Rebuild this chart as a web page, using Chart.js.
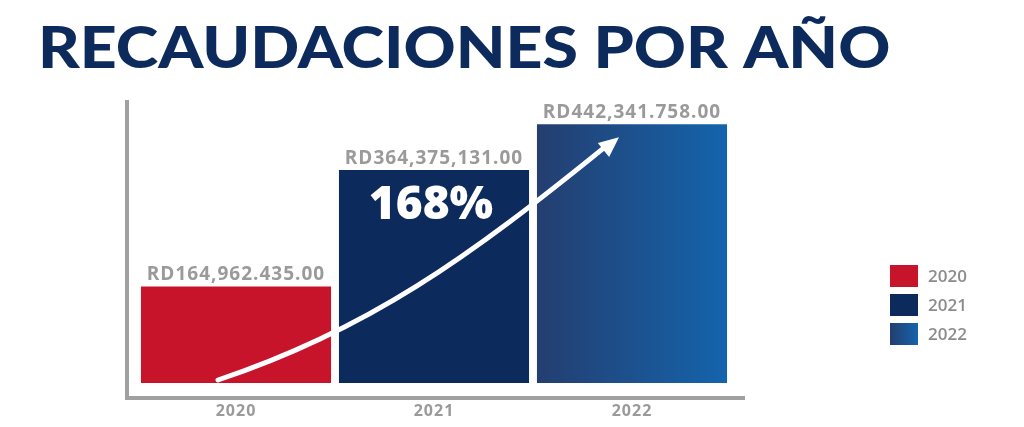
<!DOCTYPE html>
<html><head><meta charset="utf-8">
<script src="https://cdn.jsdelivr.net/npm/chart.js@4"></script>
<style>html,body{margin:0;padding:0;background:#fff}#w{width:1024px;height:427px}</style>
</head><body><div id="w"><canvas id="c"></canvas></div>
<script>
const categories = ['2020','2021','2022'];
const values = [164.962435, 364.375131, 442.341758];
const valueLabels = ['RD164,962.435.00','RD364,375,131.00','RD442,341.758.00'];
const growthLabel = '168%';
const titleText = 'RECAUDACIONES POR AÑO';

const deco = {
  id:'deco',
  afterDraw(chart){
    const ctx=chart.ctx, a=chart.chartArea, ys=chart.scales.y;
    const meta=chart.getDatasetMeta(0);
    ctx.save();
    ctx.fillStyle='#0d2a5c';
    ctx.font='900 57px Lato';
    ctx.textBaseline='middle'; ctx.textAlign='left';
    ctx.save(); ctx.translate(38,50); ctx.scale(1.13,1);
    ctx.fillText(titleText,0,0); ctx.restore();
    ctx.strokeStyle='#a0a0a0'; ctx.lineWidth=4;
    ctx.beginPath(); ctx.moveTo(a.left-10,100); ctx.lineTo(a.left-10,a.bottom+15); ctx.lineTo(a.right+14,a.bottom+15); ctx.stroke();
    ctx.fillStyle='#9a9a9a'; ctx.textAlign='center';
    categories.forEach((c,i)=>{
      const b=meta.data[i];
      ctx.letterSpacing='1px';
      ctx.font='bold 16px "Open Sans"'; ctx.textBaseline='middle';
      ctx.fillText(c,b.x,a.bottom+28);
      ctx.font='bold 19px "Open Sans"'; ctx.textBaseline='bottom';
      ctx.fillText(valueLabels[i],b.x,b.y-2);
    });
    ctx.letterSpacing='0px';
    const b0=meta.data[0], b2=meta.data[2];
    const sx=b0.x-18, sy=ys.getPixelForValue(0)-3, ex=b2.x-13, ey=b2.y+13;
    ctx.strokeStyle='#fff'; ctx.lineWidth=5; ctx.lineCap='round';
    ctx.beginPath(); ctx.moveTo(sx,sy);
    ctx.bezierCurveTo(sx+150,sy-50, ex-150,ey+120, ex-12,ey+8); ctx.stroke();
    ctx.fillStyle='#fff';
    const ang=Math.atan2(ey+8-(ey+120),ex-12-(ex-150));
    ctx.beginPath(); ctx.moveTo(ex,ey);
    ctx.lineTo(ex-20*Math.cos(ang)+9*Math.sin(ang), ey-20*Math.sin(ang)-9*Math.cos(ang));
    ctx.lineTo(ex-20*Math.cos(ang)-9*Math.sin(ang), ey-20*Math.sin(ang)+9*Math.cos(ang));
    ctx.closePath(); ctx.fill();
    const b1=meta.data[1];
    ctx.font='800 46px "Open Sans"'; ctx.textBaseline='middle'; ctx.textAlign='center';
    ctx.fillText(growthLabel,b1.x-3,b1.y+36);
    categories.forEach((c,i)=>{
      const y=265+i*29;
      if(i===2){const g=ctx.createLinearGradient(890,0,918,0);g.addColorStop(0,'#243e70');g.addColorStop(1,'#1464ac');ctx.fillStyle=g;}
      else ctx.fillStyle=i===0?'#c8142a':'#0d2a5c';
      ctx.fillRect(890,y,28,22);
      ctx.fillStyle='#8c8c8c'; ctx.font='600 17px "Open Sans"'; ctx.textAlign='left';
      ctx.fillText(c,928,y+12);
    });
    ctx.restore();
  }
};

new Chart(document.getElementById('c'),{
  type:'bar',
  data:{labels:categories,datasets:[{data:values,
    backgroundColor:(ctx)=>{
      const i=ctx.dataIndex;
      if(i===0) return '#c8142a';
      if(i===1) return '#0d2a5c';
      const ch=ctx.chart, a=ch.chartArea, xs=ch.scales.x;
      if(!a||!xs) return '#1a4f90';
      const cx=xs.getPixelForValue(2), hw=(a.right-a.left)/3*0.48;
      if(!isFinite(cx)) return '#1a4f90';
      const g=ch.ctx.createLinearGradient(cx-hw,0,cx+hw,0);
      g.addColorStop(0,'#243e70');g.addColorStop(1,'#1464ac');return g;
    },
    barPercentage:0.96,categoryPercentage:1}]},
  options:{responsive:true,maintainAspectRatio:false,animation:false,
    layout:{padding:{left:137,right:293,top:114,bottom:44}},
    plugins:{legend:{display:false},tooltip:{enabled:false}},
    scales:{x:{display:false},y:{display:false,min:0,max:460}}},
  plugins:[deco]
});
</script></body></html>
